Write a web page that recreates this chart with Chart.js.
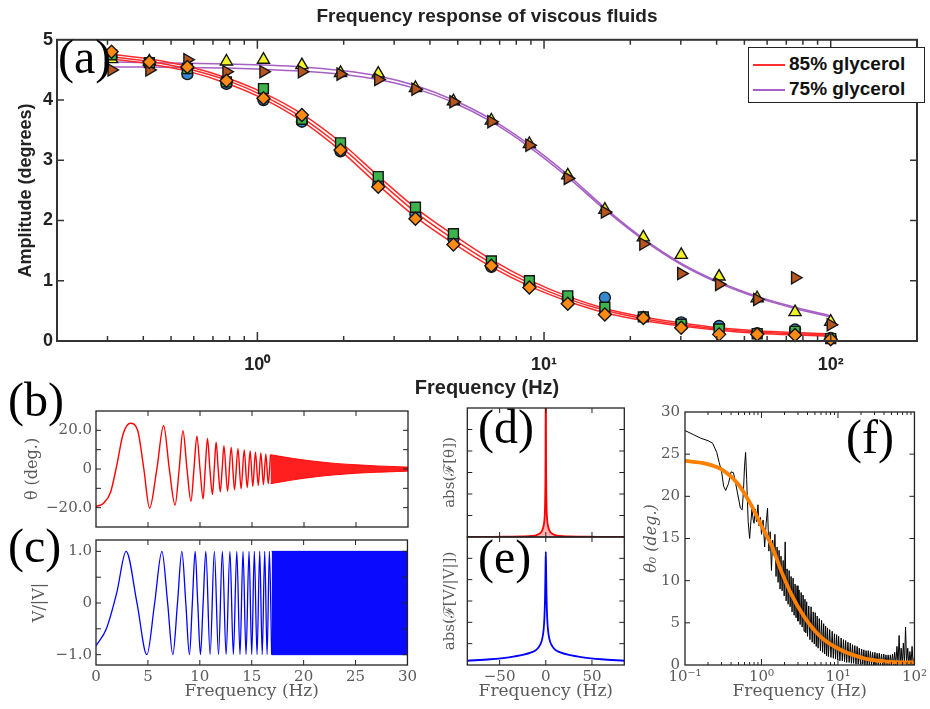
<!DOCTYPE html>
<html>
<head>
<meta charset="utf-8">
<title>Frequency response of viscous fluids</title>
<script src="https://cdn.jsdelivr.net/npm/chart.js@4.4.1/dist/chart.umd.min.js"></script>
<style>
  html, body { margin: 0; padding: 0; background: #ffffff; }
  body { position: relative; width: 930px; height: 709px; overflow: hidden; }
  canvas { position: absolute; }
  .plab { position: absolute; font-family: 'Liberation Serif', 'Times New Roman', serif; font-size: 48px; line-height: 48px; color: #000; z-index: 5; white-space: nowrap; }
  #legend { position: absolute; left: 748px; top: 47px; width: 177px; height: 56px; border: 1.5px solid #222; background: #fff; z-index: 4; font-family: 'Liberation Sans', Arial, sans-serif; font-weight: bold; font-size: 19px; color: #111; box-sizing: border-box; padding-top: 3px; }
  #legend .row { height: 25px; line-height: 25px; white-space: nowrap; }
  #legend .sw { display: inline-block; width: 32px; height: 2px; vertical-align: middle; margin: 0 4px 0 4px; }
</style>
</head>
<body>
<canvas id="ca" width="930" height="404" style="left:0px;top:0px"></canvas>
<canvas id="cb" width="420" height="142" style="left:0px;top:398px"></canvas>
<canvas id="cc" width="420" height="182" style="left:0px;top:527px"></canvas>
<canvas id="cd" width="205" height="142" style="left:430px;top:398px"></canvas>
<canvas id="ce" width="205" height="182" style="left:430px;top:527px"></canvas>
<canvas id="cf" width="300" height="311" style="left:630px;top:398px"></canvas>

<div id="legend">
  <div class="row"><span class="sw" style="background:#ff3030"></span><span id="lg0"></span></div>
  <div class="row"><span class="sw" style="background:#a65fc4"></span><span id="lg1"></span></div>
</div>
<div class="plab" style="left:58px;top:33px">(a)</div>
<div class="plab" style="left:8px;top:376px">(b)</div>
<div class="plab" style="left:8px;top:522px">(c)</div>
<div class="plab" style="left:478px;top:403px">(d)</div>
<div class="plab" style="left:478px;top:533px">(e)</div>
<div class="plab" style="left:846px;top:413px">(f)</div>

<script>
// ================= DATA =================
// ---- panel (a): frequency response ----
const aTitle = 'Frequency response of viscous fluids';
const legendLabels = ['85% glycerol', '75% glycerol'];
const aFreq = [0.31, 0.42, 0.57, 0.78, 1.05, 1.43, 1.95, 2.64, 3.56, 4.83, 6.55, 8.89, 12.1, 16.3, 22.2, 30.1, 40.8, 55.4, 75.1, 100];
// 85% glycerol runs
const g85Circle  = [4.72, 4.60, 4.43, 4.27, 4.00, 3.64, 3.15, 2.60, 2.10, 1.70, 1.23, 0.93, 0.70, 0.72, 0.40, 0.31, 0.25, 0.13, 0.19, 0.05];
const g85Square  = [4.75, 4.62, 4.52, 4.30, 4.19, 3.68, 3.29, 2.73, 2.22, 1.78, 1.33, 1.00, 0.75, 0.56, 0.40, 0.28, 0.20, 0.12, 0.16, 0.04];
const g85Diamond = [4.80, 4.63, 4.55, 4.32, 4.03, 3.75, 3.17, 2.56, 2.03, 1.60, 1.25, 0.89, 0.62, 0.44, 0.38, 0.22, 0.11, 0.11, 0.10, 0.03];
// 75% glycerol runs
const g75Triangle = [4.68, 4.64, 4.58, 4.64, 4.67, 4.58, 4.45, 4.44, 4.20, 3.98, 3.66, 3.27, 2.75, 2.18, 1.72, 1.43, 1.07, 0.71, 0.48, 0.32];
const g75Arrow    = [4.50, 4.50, 4.67, 4.47, 4.47, 4.47, 4.43, 4.34, 4.18, 3.97, 3.64, 3.25, 2.70, 2.14, 1.61, 1.12, 0.94, 0.69, 1.05, 0.27];
// fitted curves
const g85FitA = [4.76, 4.68, 4.56, 4.37, 4.12, 3.77, 3.30, 2.74, 2.21, 1.76, 1.35, 1.01, 0.74, 0.54, 0.40, 0.30, 0.22, 0.17, 0.14, 0.12];
const g85FitB = [4.72, 4.64, 4.52, 4.33, 4.07, 3.71, 3.23, 2.67, 2.14, 1.69, 1.29, 0.96, 0.70, 0.51, 0.37, 0.27, 0.20, 0.15, 0.12, 0.10];
const g85FitC = [4.68, 4.60, 4.48, 4.28, 4.02, 3.65, 3.16, 2.59, 2.06, 1.62, 1.23, 0.91, 0.66, 0.47, 0.34, 0.25, 0.18, 0.13, 0.10, 0.08];
const g75FitA = [4.63, 4.62, 4.61, 4.60, 4.58, 4.55, 4.49, 4.40, 4.24, 4.00, 3.68, 3.26, 2.76, 2.21, 1.70, 1.29, 0.98, 0.74, 0.56, 0.42];
const g75FitB = [4.55, 4.55, 4.54, 4.53, 4.51, 4.48, 4.43, 4.34, 4.19, 3.96, 3.64, 3.22, 2.72, 2.18, 1.68, 1.27, 0.96, 0.72, 0.54, 0.40];
const aXTicks = [0.2, 0.3, 0.4, 0.5, 0.6, 0.7, 0.8, 0.9, 1, 2, 3, 4, 5, 6, 7, 8, 9, 10, 20, 30, 40, 50, 60, 70, 80, 90, 100, 200];
const aXLabels = { 1: '10⁰', 10: '10¹', 100: '10²' };
const aYTicks = [0, 1, 2, 3, 4, 5];

// ---- panel (b): theta vs frequency ----
const bFreq  = [0, 0.7, 1.4, 2.0, 2.6, 3.3, 4.0, 4.6, 5.15, 5.85, 6.5, 7.05, 7.6, 8.0, 8.36, 8.75, 9.13, 9.42, 9.7, 10.0, 10.3, 10.5, 10.72, 10.95, 11.2, 11.37, 11.55, 11.75, 11.95, 12.13, 12.3, 12.65, 13.0, 13.32, 13.65, 13.95, 14.25, 14.54, 14.82, 15.08, 15.33, 15.6, 15.85, 16.1, 16.33, 16.56, 16.78];
const bTheta = [-19.4, -17.8, -12.0, 2.0, 18.0, 23.7, 20.0, 0, -20.2, 0, 22.5, 0, -18.6, 0, 19.8, 0, -16.7, 0, 17.0, 0, -15.5, 0, 15.8, 0, -13.2, 0, 13.9, 0, -11.8, 0, 12.1, -11.5, 11.2, -10.8, 10.5, -10.2, 9.9, -9.6, 9.3, -9.0, 8.7, -8.5, 8.3, -8.0, 7.8, -7.6, 7.4];
const bDenseFreq  = [16.78, 18, 19, 20, 21, 22, 23, 24, 25, 26, 27, 28, 29, 30];
const bDenseUpper = [7.4, 6.3, 5.4, 4.7, 4.0, 3.4, 2.9, 2.5, 2.2, 1.9, 1.6, 1.4, 1.2, 1.0];
const bDenseLower = [-7.6, -6.5, -5.6, -4.8, -4.1, -3.5, -3.0, -2.6, -2.2, -1.9, -1.7, -1.5, -1.3, -1.1];
const bYTicks = [-30, -20, -10, 0, 10, 20, 30];
const bYLabels = { '20': '20.0', '0': '0', '-20': '−20.0' };

// ---- panel (c): drive signal V/|V| ----
const cFreq = [0, 1.0, 2.0, 2.9, 3.95, 4.9, 5.65, 6.35, 6.9, 7.4, 7.85, 8.27, 8.65, 9.0, 9.28, 9.55, 9.8, 10.06, 10.32, 10.58, 10.99, 11.4, 11.8, 12.17, 12.53, 12.9, 13.23, 13.56, 13.87, 14.16, 14.45, 14.74, 15.0, 15.25, 15.51, 15.77, 16.01, 16.25, 16.48, 16.7, 16.92];
const cV    = [-0.83, -0.5, 0.2, 1, 0, -1, 0, 1, 0, -1, 0, 1, 0, -1, 0, 1, 0, -1, 0, 1, -1, 1, -1, 1, -1, 1, -1, 1, -1, 1, -1, 1, -1, 1, -1, 1, -1, 1, -1, 1, -1];
const cDenseFreq  = [16.92, 30];
const cDenseUpper = [1, 1];
const cDenseLower = [-1, -1];
const bcXTicks = [0, 5, 10, 15, 20, 25, 30];
const cYTicks = [-1, -0.5, 0, 0.5, 1];
const cYLabels = { '1': '1.0', '0': '0', '-1': '−1.0' };

// ---- panels (d), (e): Fourier spectra ----
const deFreq = [-85, -60, -40, -25, -15, -10, -6, -4, -2.5, -1.5, -0.8, -0.3, 0, 0.3, 0.8, 1.5, 2.5, 4, 6, 10, 15, 25, 40, 60, 85];
const dAbs   = [0.01, 0.01, 0.02, 0.03, 0.05, 0.09, 0.18, 0.3, 0.5, 0.8, 1.5, 3.5, 8.0, 3.5, 1.5, 0.8, 0.5, 0.3, 0.18, 0.09, 0.05, 0.03, 0.02, 0.01, 0.01];
const eAbs   = [0.2, 0.27, 0.36, 0.47, 0.6, 0.72, 0.95, 1.2, 1.6, 2.2, 3.2, 4.6, 5.3, 4.6, 3.2, 2.2, 1.6, 1.2, 0.95, 0.72, 0.6, 0.47, 0.36, 0.27, 0.2];
const deXTicks = [-50, 0, 50];
const deXLabels = { '-50': '−50', '0': '0', '50': '50' };
const deYTicks = [0, 1, 2, 3, 4, 5, 6];

// ---- panel (f): amplitude theta_0 vs frequency (measured, noisy) ----
const fFreq = [
  0.1, 0.13, 0.16, 0.2, 0.23, 0.26, 0.28, 0.3, 0.32, 0.34, 0.37, 0.4, 0.43, 0.46, 0.5, 0.53, 0.56, 0.58, 0.6, 0.62,
  0.64, 0.67, 0.7, 0.72, 0.75, 0.78, 0.8, 0.83, 0.86, 0.9, 0.93, 0.97, 1.0, 1.05, 1.1, 1.15, 1.2, 1.25, 1.3, 1.35,
  1.4, 1.45,
  1.5, 1.55, 1.6, 1.65, 1.7, 1.75, 1.8, 1.86, 1.92, 1.98, 2.04, 2.1, 2.16, 2.23, 2.3, 2.37, 2.44, 2.51, 2.59, 2.67,
  2.75, 2.83, 2.92, 3.0, 3.1, 3.2, 3.3, 3.4, 3.5, 3.6, 3.7, 3.8, 3.9, 4.0, 4.15, 4.3, 4.45, 4.6, 4.75, 4.9,
  5.05, 5.2, 5.35, 5.5, 5.7, 5.9, 6.1, 6.3, 6.5, 6.7, 6.9, 7.1, 7.3, 7.5, 7.8, 8.1, 8.4, 8.7, 9.0, 9.3,
  9.6, 9.9, 10.2, 10.6, 11.0, 11.4, 11.8, 12.2, 12.6, 13.0, 13.5, 14.0, 14.5, 15.0, 15.5, 16, 16.6, 17.2, 17.8, 18.4,
  19, 19.7, 20.4, 21.1, 21.8, 22.5, 23.3, 24.1, 24.9, 25.7, 26.6, 27.5, 28.4, 29.4, 30.4, 31.4, 32.5, 33.6, 34.7, 35.9,
  37.1, 38.4, 39.7, 41, 42.4, 43.8, 45.3, 46.8, 48.4, 50, 51.7, 53.4, 55.2, 57, 59, 61, 63, 65, 67, 69.3,
  71.6, 74, 76.5, 79, 81.7, 84.4, 87.2, 90.1, 93.1, 96.2, 100
];
const fTheta = [
  27.8, 27.3, 26.9, 26.6, 26.3, 25.2, 24.0, 23.0, 21.2, 20.7, 21.5, 22.9, 22.8, 21.5, 19.8, 18.6, 18.4, 20.5, 23.5, 25.2,
  22.0, 17.0, 15.0, 16.5, 18.5, 17.2, 16.8, 18.5, 17.0, 19.0, 16.5, 17.5, 15.5, 17.2, 14.0, 16.8, 18.6, 13.5, 15.8, 11.2,
  14.8, 13.0,
  15.5, 10.5, 14.0, 9.8, 13.6, 9.0, 12.9, 8.8, 12.4, 8.2, 14.6, 7.6, 11.4, 7.2, 11.2, 6.9, 10.5, 6.3, 10.3, 5.9,
  9.6, 5.6, 9.4, 5.2, 8.9, 4.8, 8.6, 4.5, 8.3, 4.0, 7.8, 3.8, 7.5, 3.4, 7.0, 3.0, 6.9, 2.7, 6.3, 2.5,
  6.2, 2.2, 5.8, 2.0, 5.5, 1.7, 5.3, 1.5, 4.9, 1.3, 4.6, 1.1, 4.4, 1.0, 4.2, 0.9, 4.0, 0.8, 3.7, 0.7,
  3.6, 0.6, 3.4, 0.5, 3.2, 0.5, 3.0, 0.4, 2.9, 0.3, 2.7, 0.3, 2.6, 0.2, 2.4, 0.2, 2.3, 0.1, 2.2, 0.1,
  2.0, 0.1, 1.9, 0.1, 1.8, 0.0, 1.7, 0.0, 1.7, 0.0, 1.6, 0.0, 1.5, 0.0, 1.5, 0.0, 1.4, 0.0, 1.4, 0.0,
  1.3, 0.0, 1.3, 0.0, 1.2, 0.0, 1.2, 0.0, 1.2, 0.0, 1.3, 0.0, 1.5, 0.0, 2.2, 0.1, 3.5, 0.1, 2.0, 0.0,
  2.6, 0.1, 4.5, 0.1, 2.0, 0.0, 1.6, 0.1, 2.2, 0.0, 1.0
];
const fFitFreq = [0.1, 0.18, 0.3, 0.5, 0.74, 1.0, 1.35, 1.82, 2.45, 3.66, 6.0, 10, 22, 44, 100];
const fFit     = [24.2, 23.9, 23.2, 21.4, 18.9, 16.5, 14.2, 11.1, 8.4, 5.65, 3.3, 1.95, 0.78, 0.39, 0.3];
const fXTicks = [0.1, 0.2, 0.3, 0.4, 0.5, 0.6, 0.7, 0.8, 0.9, 1, 2, 3, 4, 5, 6, 7, 8, 9, 10, 20, 30, 40, 50, 60, 70, 80, 90, 100];
const fXLabels = { 0.1: '10⁻¹', 1: '10⁰', 10: '10¹', 100: '10²' };
const fYTicks = [0, 5, 10, 15, 20, 25, 30];

// ================= HELPERS =================
const SANS = "'Liberation Sans', Arial, Helvetica, sans-serif";
const SERIF = "'DejaVu Serif', 'Liberation Serif', serif";
const P = (xs, ys) => xs.map((x, i) => ({ x: x, y: ys[i] }));
const setTicks = vals => s => { s.ticks = vals.map(v => ({ value: v })); };
const fixW = w => s => { s.width = w; };
const fixH = h => s => { s.height = h; };
const noGrid = { display: false, drawTicks: false };
const noBorder = { display: false };

document.getElementById('lg0').textContent = legendLabels[0];
document.getElementById('lg1').textContent = legendLabels[1];

// inward ticks + box frame
const framePlugin = {
  id: 'frame',
  afterDatasetsDraw(chart, args, o) {
    if (!o || !o.on) return;
    const ctx = chart.ctx, ca = chart.chartArea;
    ctx.save();
    ctx.strokeStyle = o.color;
    ctx.lineWidth = o.tickWidth;
    ctx.beginPath();
    ['x', 'y'].forEach(id => {
      const spec = o[id], s = chart.scales[id];
      if (!spec || !s) return;
      s.ticks.forEach(t => {
        const major = spec.majorVals ? spec.majorVals.indexOf(t.value) >= 0 : true;
        const len = major ? spec.major : spec.minor;
        const p = s.getPixelForValue(t.value);
        if (id === 'x') {
          if (p < ca.left + 1 || p > ca.right - 1) return;
          ctx.moveTo(p, ca.bottom); ctx.lineTo(p, ca.bottom - len);
          ctx.moveTo(p, ca.top); ctx.lineTo(p, ca.top + len);
        } else {
          if (p < ca.top + 1 || p > ca.bottom - 1) return;
          ctx.moveTo(ca.left, p); ctx.lineTo(ca.left + len, p);
          ctx.moveTo(ca.right, p); ctx.lineTo(ca.right - len, p);
        }
      });
    });
    ctx.stroke();
    ctx.lineWidth = o.width;
    ctx.strokeRect(ca.left, ca.top, ca.right - ca.left, ca.bottom - ca.top);
    ctx.restore();
  }
};
Chart.register(framePlugin);

const common = {
  responsive: false, animation: false, devicePixelRatio: 1, events: [],
};
const quiet = { legend: { display: false }, tooltip: { enabled: false } };

const marker = (ys, style, color, r, rot, order) => ({
  label: style, data: P(aFreq, ys), showLine: false,
  pointStyle: style, pointRadius: r, pointRotation: rot,
  pointBackgroundColor: color, pointBorderColor: '#151515', pointBorderWidth: 1.4,
  backgroundColor: color, borderColor: '#151515', order: order, clip: false
});
const curve = (xs, ys, color, w, order, extra) => Object.assign({
  data: P(xs, ys), showLine: true, pointRadius: 0, borderColor: color, borderWidth: w,
  fill: false, cubicInterpolationMode: 'monotone', order: order
}, extra || {});

const serifTick = (size) => ({ family: SERIF, size: size });
const TICKC = '#5a5a5a';

// ================= PANEL (a) =================
new Chart(document.getElementById('ca'), {
  type: 'line',
  data: { datasets: [
    marker(g85Diamond, 'rectRot', '#ff8a14', 6.5, 0, 0),
    marker(g75Arrow, 'triangle', '#b8561f', 7, 90, 1),
    marker(g85Square, 'rect', '#3cb44b', 7, 0, 2),
    marker(g75Triangle, 'triangle', '#f2f224', 7, 0, 3),
    marker(g85Circle, 'circle', '#3489cf', 5.5, 0, 4),
    curve(aFreq, g85FitA, '#ff2a2a', 1.5, 10, { label: legendLabels[0] }),
    curve(aFreq, g85FitB, '#ff2a2a', 1.5, 10),
    curve(aFreq, g85FitC, '#ff2a2a', 1.5, 10),
    curve(aFreq, g75FitA, '#a65fc4', 1.5, 11, { label: legendLabels[1] }),
    curve(aFreq, g75FitB, '#a65fc4', 1.5, 11)
  ]},
  options: Object.assign({}, common, {
    layout: { padding: { top: 0, right: 5, left: 0, bottom: 0 } },
    plugins: Object.assign({}, quiet, {
      title: { display: true, text: aTitle, fullSize: false, color: '#222',
               font: { family: SANS, size: 19, weight: 'bold' }, padding: { top: 5, bottom: 12 } },
      frame: { on: true, color: '#333', width: 2, tickWidth: 1.5,
               x: { major: 9, minor: 5, majorVals: [1, 10, 100] }, y: { major: 7, minor: 7 } }
    }),
    scales: {
      x: { type: 'logarithmic', min: 0.2, max: 200, afterBuildTicks: setTicks(aXTicks), afterFit: fixH(63),
           grid: noGrid, border: noBorder,
           ticks: { autoSkip: false, maxRotation: 0, padding: 13, color: '#222',
                    font: { family: SANS, size: 18, weight: 'bold' }, callback: v => aXLabels[v] || '' },
           title: { display: true, text: 'Frequency (Hz)', color: '#222',
                    font: { family: SANS, size: 20, weight: 'bold' }, padding: { top: 0, bottom: 4 } } },
      y: { type: 'linear', min: 0, max: 5, afterBuildTicks: setTicks(aYTicks), afterFit: fixW(57),
           grid: noGrid, border: noBorder,
           ticks: { autoSkip: false, padding: 4, color: '#222',
                    font: { family: SANS, size: 18, weight: 'bold' }, callback: v => String(v) },
           title: { display: true, text: 'Amplitude (degrees)', color: '#222',
                    font: { family: SANS, size: 18, weight: 'bold' }, padding: { top: 15, bottom: 0 } } }
    }
  })
});

// ================= PANEL (b) =================
new Chart(document.getElementById('cb'), {
  type: 'line',
  data: { datasets: [
    curve(bFreq, bTheta, '#ff0000', 1.4, 0),
    curve(bDenseFreq, bDenseUpper, 'rgba(255,0,0,0.9)', 1, 1, { fill: '+1', backgroundColor: 'rgba(255,0,0,0.88)' }),
    curve(bDenseFreq, bDenseLower, 'rgba(255,0,0,0.9)', 1, 2)
  ]},
  options: Object.assign({}, common, {
    layout: { padding: { top: 10, right: 12, left: 0, bottom: 3 } },
    plugins: Object.assign({}, quiet, {
      frame: { on: true, color: '#222', width: 1.3, tickWidth: 1, x: { major: 5 }, y: { major: 5 } }
    }),
    scales: {
      x: { type: 'linear', min: 0, max: 30, afterBuildTicks: setTicks(bcXTicks), afterFit: fixH(0),
           grid: noGrid, border: noBorder, ticks: { display: false } },
      y: { type: 'linear', min: -30, max: 30, afterBuildTicks: setTicks(bYTicks), afterFit: fixW(96),
           grid: noGrid, border: noBorder,
           ticks: { autoSkip: false, padding: 4, color: TICKC, font: serifTick(15), callback: v => bYLabels[String(v)] || '' },
           title: { display: true, text: 'θ (deg.)', color: TICKC, font: { family: SERIF, size: 16 }, padding: { top: 23, bottom: 0 } } }
    }
  })
});

// ================= PANEL (c) =================
new Chart(document.getElementById('cc'), {
  type: 'line',
  data: { datasets: [
    curve(cFreq, cV, '#0000ff', 1.3, 0),
    curve(cDenseFreq, cDenseUpper, '#0000ff', 1, 1, { fill: '+1', backgroundColor: '#0a0aff', cubicInterpolationMode: 'default' }),
    curve(cDenseFreq, cDenseLower, '#0000ff', 1, 2, { cubicInterpolationMode: 'default' })
  ]},
  options: Object.assign({}, common, {
    layout: { padding: { top: 10, right: 12, left: 0, bottom: 0 } },
    plugins: Object.assign({}, quiet, {
      frame: { on: true, color: '#222', width: 1.3, tickWidth: 1, x: { major: 5 }, y: { major: 5 } }
    }),
    scales: {
      x: { type: 'linear', min: 0, max: 30, afterBuildTicks: setTicks(bcXTicks), afterFit: fixH(44),
           grid: noGrid, border: noBorder,
           ticks: { autoSkip: false, maxRotation: 0, padding: 3, color: TICKC, font: serifTick(15), callback: v => String(v) },
           title: { display: true, text: 'Frequency (Hz)', color: TICKC, font: { family: SERIF, size: 17 }, padding: { top: 0, bottom: 7 } } },
      y: { type: 'linear', min: -1.2, max: 1.22, afterBuildTicks: setTicks(cYTicks), afterFit: fixW(96),
           grid: noGrid, border: noBorder,
           ticks: { autoSkip: false, padding: 4, color: TICKC, font: serifTick(15), callback: v => cYLabels[String(v)] || '' },
           title: { display: true, text: 'V/|V|', color: TICKC, font: { family: SERIF, size: 16 }, padding: { top: 30, bottom: 0 } } }
    }
  })
});

// ================= PANEL (d) =================
new Chart(document.getElementById('cd'), {
  type: 'line',
  data: { datasets: [
    curve(deFreq, dAbs, '#ff0000', 1.8, 0, { fill: 'origin', backgroundColor: 'rgba(255,40,40,0.35)' })
  ]},
  options: Object.assign({}, common, {
    layout: { padding: { top: 10, right: 10.7, left: 0, bottom: 3 } },
    plugins: Object.assign({}, quiet, {
      frame: { on: true, color: '#222', width: 1.3, tickWidth: 1, x: { major: 5 }, y: { major: 5 } }
    }),
    scales: {
      x: { type: 'linear', min: -85, max: 85, afterBuildTicks: setTicks(deXTicks), afterFit: fixH(0),
           grid: noGrid, border: noBorder, ticks: { display: false } },
      y: { type: 'linear', min: 0, max: 6, afterBuildTicks: setTicks(deYTicks), afterFit: fixW(37.3),
           grid: noGrid, border: noBorder, ticks: { display: false },
           title: { display: true, text: 'abs(ℱ[θ])', color: TICKC, font: { family: SERIF, size: 15 }, padding: { top: 11, bottom: 0 } } }
    }
  })
});

// ================= PANEL (e) =================
new Chart(document.getElementById('ce'), {
  type: 'line',
  data: { datasets: [
    curve(deFreq, eAbs, '#0000ff', 1.8, 0)
  ]},
  options: Object.assign({}, common, {
    layout: { padding: { top: 10, right: 10.7, left: 0, bottom: 0 } },
    plugins: Object.assign({}, quiet, {
      frame: { on: true, color: '#222', width: 1.3, tickWidth: 1, x: { major: 5 }, y: { major: 5 } }
    }),
    scales: {
      x: { type: 'linear', min: -85, max: 85, afterBuildTicks: setTicks(deXTicks), afterFit: fixH(44),
           grid: noGrid, border: noBorder,
           ticks: { autoSkip: false, maxRotation: 0, padding: 3, color: TICKC, font: serifTick(15), callback: v => deXLabels[String(v)] || '' },
           title: { display: true, text: 'Frequency (Hz)', color: TICKC, font: { family: SERIF, size: 17 }, padding: { top: 0, bottom: 7 } } },
      y: { type: 'linear', min: 0, max: 6, afterBuildTicks: setTicks(deYTicks), afterFit: fixW(37.3),
           grid: noGrid, border: noBorder, ticks: { display: false },
           title: { display: true, text: 'abs(ℱ[V/|V|])', color: TICKC, font: { family: SERIF, size: 15 }, padding: { top: 11, bottom: 0 } } }
    }
  })
});

// ================= PANEL (f) =================
new Chart(document.getElementById('cf'), {
  type: 'line',
  data: { datasets: [
    curve(fFitFreq, fFit, '#ff8000', 3.8, 0),
    curve(fFreq, fTheta, '#000000', 1, 1, { cubicInterpolationMode: 'default' })
  ]},
  options: Object.assign({}, common, {
    layout: { padding: { top: 10, right: 14, left: 0, bottom: 0 } },
    plugins: Object.assign({}, quiet, {
      frame: { on: true, color: '#222', width: 1.3, tickWidth: 1,
               x: { major: 6, minor: 3, majorVals: [0.1, 1, 10, 100] }, y: { major: 5 } }
    }),
    scales: {
      x: { type: 'logarithmic', min: 0.1, max: 100, afterBuildTicks: setTicks(fXTicks), afterFit: fixH(44),
           grid: noGrid, border: noBorder,
           ticks: { autoSkip: false, maxRotation: 0, padding: 3, color: TICKC, font: serifTick(15), callback: v => fXLabels[v] || '' },
           title: { display: true, text: 'Frequency (Hz)', color: TICKC, font: { family: SERIF, size: 17 }, padding: { top: 0, bottom: 7 } } },
      y: { type: 'linear', min: 0, max: 30, afterBuildTicks: setTicks(fYTicks), afterFit: fixW(55),
           grid: noGrid, border: noBorder,
           ticks: { autoSkip: false, padding: 5, color: TICKC, font: serifTick(15), callback: v => String(v) },
           title: { display: true, text: 'θ₀ (deg.)', color: TICKC, font: { family: SERIF, size: 16, style: 'italic' }, padding: { top: 12, bottom: 0 } } }
    }
  })
});
</script>
</body>
</html>
